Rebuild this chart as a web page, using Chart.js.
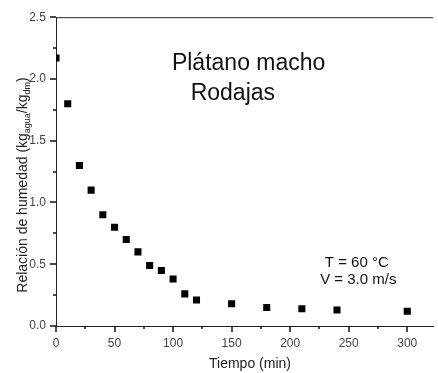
<!DOCTYPE html>
<html>
<head>
<meta charset="utf-8">
<script src="https://cdn.jsdelivr.net/npm/chart.js@4/dist/chart.umd.min.js"></script>
<style>
html,body{margin:0;padding:0;background:#fff;}
#wrap{width:438px;height:373px;position:relative;}
</style>
</head>
<body>
<div id="wrap"><canvas id="c" width="438" height="373"></canvas></div>
<script>
const tiempo = [0, 10, 20, 30, 40, 50, 60, 70, 80, 90, 100, 110, 120, 150, 180, 210, 240, 300];
const humedad = [2.17, 1.80, 1.30, 1.10, 0.90, 0.80, 0.70, 0.60, 0.49, 0.45, 0.38, 0.26, 0.21, 0.18, 0.15, 0.14, 0.13, 0.12];
const xTicks = [0, 25, 50, 75, 100, 125, 150, 175, 200, 225, 250, 275, 300];
const xLabels = [0, 50, 100, 150, 200, 250, 300];
const yTicks = [0, 0.25, 0.5, 0.75, 1.0, 1.25, 1.5, 1.75, 2.0, 2.25, 2.5];
const yLabels = [0, 0.5, 1.0, 1.5, 2.0, 2.5];
const xTitle = "Tiempo (min)";
const yTitleParts = [["Relación de humedad (kg", false], ["agua", true], ["/kg", false], ["dm", true], [")", false]];
const notes = [["Plátano macho", 23], ["Rodajas", 23], ["T = 60 °C", 15], ["V = 3.0 m/s", 15]];

const FONT = "'Liberation Sans', Arial, sans-serif";
const isMajor = (list, v) => list.some(l => Math.abs(l - v) < 1e-9);

const decor = {
  id: 'decor',
  afterDraw(chart) {
    const ctx = chart.ctx;
    const a = chart.chartArea;
    const xs = chart.scales.x, ys = chart.scales.y;
    ctx.save();
    ctx.strokeStyle = '#222';
    ctx.lineWidth = 1;
    ctx.beginPath();
    ctx.moveTo(a.left, a.top + 0.5);
    ctx.lineTo(a.right, a.top + 0.5);
    ctx.stroke();
    // tick marks (outward)
    ctx.fillStyle = '#111';
    for (const v of xTicks) {
      const px = Math.round(xs.getPixelForValue(v));
      const len = isMajor(xLabels, v) ? 6 : 3;
      ctx.fillRect(px - 0.75, Math.round(a.bottom), 1.5, len);
    }
    for (const v of yTicks) {
      const py = Math.round(ys.getPixelForValue(v));
      const len = isMajor(yLabels, v) ? 6 : 3;
      ctx.fillRect(Math.round(a.left) - len, py - 0.75, len, 1.5);
    }
    // x title
    ctx.fillStyle = '#222';
    ctx.font = '14px ' + FONT;
    ctx.textAlign = 'center';
    ctx.textBaseline = 'middle';
    ctx.fillText(xTitle, 250, 364);
    // y title with subscripts
    ctx.translate(21, 185);
    ctx.rotate(-Math.PI / 2);
    let total = 0;
    const widths = yTitleParts.map(([t, sub]) => {
      ctx.font = (sub ? '9px ' : '14px ') + FONT;
      const w = ctx.measureText(t).width;
      total += w;
      return w;
    });
    let x = -total / 2;
    ctx.textAlign = 'left';
    ctx.textBaseline = 'alphabetic';
    yTitleParts.forEach(([t, sub], i) => {
      ctx.font = (sub ? '9px ' : '14px ') + FONT;
      ctx.fillText(t, x, sub ? 9 : 6);
      x += widths[i];
    });
    ctx.restore();
    // annotations placed in data space
    ctx.save();
    ctx.fillStyle = '#111';
    ctx.textBaseline = 'middle';
    ctx.textAlign = 'left';
    const pos = [[99, 2.127], [115, 1.885], [229.6, 0.512], [225.6, 0.372]];
    notes.forEach(([t, s], i) => {
      ctx.font = s + 'px ' + FONT;
      ctx.fillText(t, xs.getPixelForValue(pos[i][0]), ys.getPixelForValue(pos[i][1]));
    });
    ctx.restore();
  }
};

new Chart(document.getElementById('c'), {
  type: 'scatter',
  data: {
    datasets: [{
      data: tiempo.map((t, i) => ({ x: t, y: humedad[i] })),
      pointStyle: 'rect',
      pointRadius: 5,
      pointHoverRadius: 5,
      backgroundColor: '#000',
      borderColor: '#000',
      borderWidth: 0
    }]
  },
  options: {
    responsive: false,
    animation: false,
    events: [],
    layout: { padding: { top: 17, right: 1, left: 0, bottom: 0 } },
    plugins: { legend: { display: false }, tooltip: { enabled: false } },
    scales: {
      x: {
        type: 'linear',
        min: 0, max: 322,
        afterBuildTicks(s) { s.ticks = xTicks.map(v => ({ value: v })); },
        afterFit(s) { s.height = 47; },
        grid: { display: true, drawOnChartArea: false, drawTicks: false },
        border: { color: '#222', width: 1 },
        ticks: {
          autoSkip: false, maxRotation: 0, padding: 10,
          color: '#444', font: { family: FONT, size: 12 },
          callback: v => isMajor(xLabels, v) ? String(v) : ''
        }
      },
      y: {
        type: 'linear',
        min: 0, max: 2.5,
        afterBuildTicks(s) { s.ticks = yTicks.map(v => ({ value: v })); },
        afterFit(s) { s.width = 56; },
        grid: { display: true, drawOnChartArea: false, drawTicks: false },
        border: { color: '#222', width: 1 },
        ticks: {
          autoSkip: false, padding: 10,
          color: '#444', font: { family: FONT, size: 12 },
          callback: v => isMajor(yLabels, v) ? v.toFixed(1) : ''
        }
      }
    }
  },
  plugins: [decor]
});
</script>
</body>
</html>
